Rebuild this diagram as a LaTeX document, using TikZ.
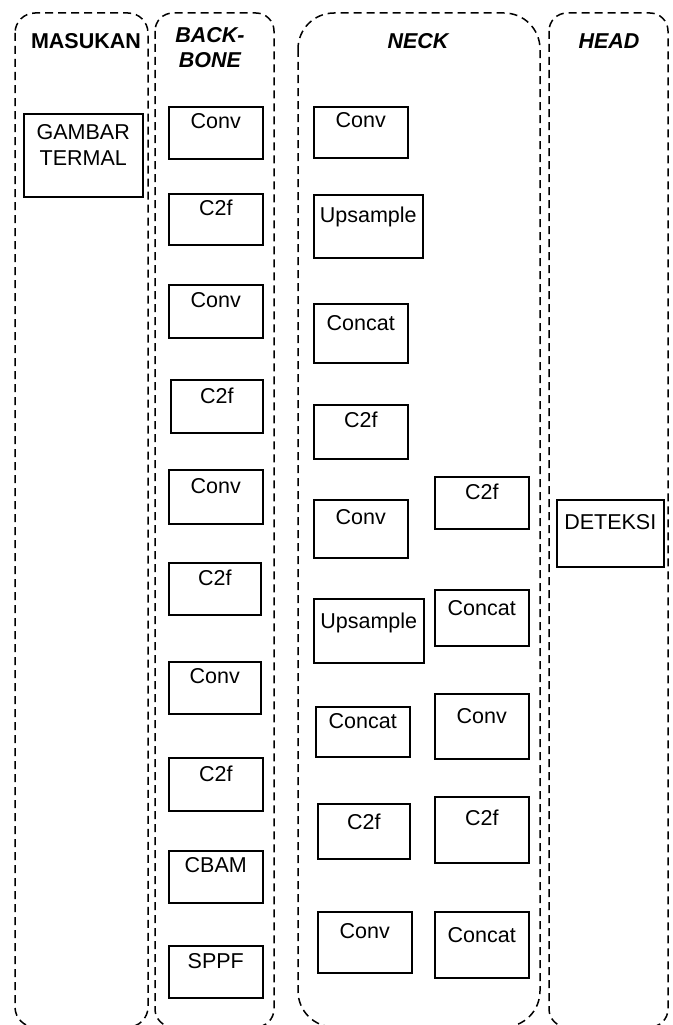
\documentclass[tikz,border=0pt]{standalone}
\usepackage{fontspec}
\setmainfont{Liberation Sans}
\tikzset{
  kolom/.style={draw=black, line width=1.5pt, dash pattern=on 8pt off 5pt},
  blok/.style={draw=black, line width=1.5pt, anchor=north west, inner xsep=0pt, inner ysep=0pt},
  judul/.style={font=\fontsize{21.5pt}{25pt}\selectfont\bfseries\itshape, align=center}
}
\begin{document}
\begin{tikzpicture}[x=1pt, y=-1pt]
		\tikzstyle{every node}=[font=\fontsize{21.5pt}{26pt}\selectfont]
		\useasboundingbox (0,0) rectangle (672,1025);
		
		\draw[kolom, rounded corners=20pt] (15,13) rectangle (148,1027);
		\draw[kolom, rounded corners=18pt] (155,13) rectangle (274,1027);
		\draw[kolom, rounded corners=36pt] (298,13) rectangle (540,1027);
		\draw[kolom, rounded corners=18pt] (549,13) rectangle (668,1027);
		
		\node[judul, font=\fontsize{21.5pt}{25pt}\selectfont\bfseries] (jMasukan) at (86,41) {MASUKAN};
		\node[judul] (jBackbone) at (210,48) {BACK-\\BONE};
		\node[judul] (jNeck) at (418,41) {NECK};
		\node[judul] (jHead) at (609,41) {HEAD};
		
		\node[blok, align=center, minimum width=119pt, text width=119pt, text height=26pt, text depth=57pt] (gambar) at (23,113) {GAMBAR\\TERMAL};
		
		\node[blok, minimum width=94pt, text height=22pt, text depth=30pt] (bConv1) at (168,106) {Conv};
		\node[blok, minimum width=94pt, text height=22pt, text depth=29pt] (bC2f1) at (168,193) {C2f};
		\node[blok, minimum width=94pt, text height=23pt, text depth=30pt] (bConv2) at (168,284) {Conv};
		\node[blok, minimum width=92pt, text height=24pt, text depth=29pt] (bC2f2) at (170,379) {C2f};
		\node[blok, minimum width=94pt, text height=24pt, text depth=30pt] (bConv3) at (168,469) {Conv};
		\node[blok, minimum width=92pt, text height=23pt, text depth=29pt] (bC2f3) at (168,562) {C2f};
		\node[blok, minimum width=92pt, text height=22pt, text depth=30pt] (bConv4) at (168,661) {Conv};
		\node[blok, minimum width=94pt, text height=24pt, text depth=29pt] (bC2f4) at (168,757) {C2f};
		\node[blok, minimum width=94pt, text height=22pt, text depth=30pt] (bCbam) at (168,850) {CBAM};
		\node[blok, minimum width=94pt, text height=23pt, text depth=29pt] (bSppf) at (168,945) {SPPF};
		
		\node[blok, minimum width=94pt, text height=21pt, text depth=30pt] (nConv1) at (313,106) {Conv};
		\node[blok, minimum width=109pt, text height=28pt, text depth=35pt] (nUp1) at (313,194) {Upsample};
		\node[blok, minimum width=94pt, text height=27pt, text depth=32pt] (nConcat1) at (313,303) {Concat};
		\node[blok, minimum width=94pt, text height=23pt, text depth=31pt] (nC2f1) at (313,404) {C2f};
		\node[blok, minimum width=94pt, text height=25pt, text depth=33pt] (nConv2) at (313,499) {Conv};
		\node[blok, minimum width=110pt, text height=30pt, text depth=34pt] (nUp2) at (313,598) {Upsample};
		\node[blok, minimum width=94pt, text height=22pt, text depth=28pt] (nConcat2) at (315,706) {Concat};
		\node[blok, minimum width=92pt, text height=26pt, text depth=29pt] (nC2f2) at (317,803) {C2f};
		\node[blok, minimum width=94pt, text height=27pt, text depth=34pt] (nConv3) at (317,911) {Conv};
		
		\node[blok, minimum width=94pt, text height=23pt, text depth=29pt] (nC2f3) at (434,476) {C2f};
		\node[blok, minimum width=94pt, text height=26pt, text depth=30pt] (nConcat3) at (434,589) {Concat};
		\node[blok, minimum width=94pt, text height=30pt, text depth=35pt] (nConv4) at (434,693) {Conv};
		\node[blok, minimum width=94pt, text height=29pt, text depth=37pt] (nC2f4) at (434,796) {C2f};
		\node[blok, minimum width=94pt, text height=31pt, text depth=35pt] (nConcat4) at (434,911) {Concat};
		
		\node[blok, minimum width=107pt, text height=30pt, text depth=37pt] (hDeteksi) at (556,499) {DETEKSI};
		
\end{tikzpicture}
\end{document}
